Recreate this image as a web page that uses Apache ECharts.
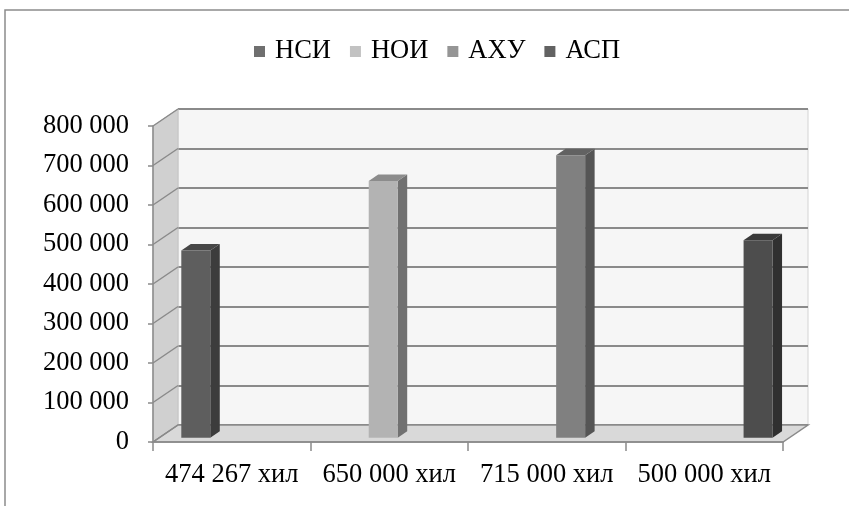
<!DOCTYPE html>
<html>
<head>
<meta charset="utf-8">
<script src="https://cdn.jsdelivr.net/npm/echarts@6/dist/echarts.min.js"></script>
<style>
  html, body { margin: 0; padding: 0; background: #ffffff; }
  #chart { width: 849px; height: 506px; }
</style>
</head>
<body>
<div id="chart"></div>
<script>
// Categories along the front axis
const categories = ['474 267 хил', '650 000 хил', '715 000 хил', '500 000 хил'];

// One series per department; each has a value only in its own category
const seriesNames = ['НСИ', 'НОИ', 'АХУ', 'АСП'];
const nsiValues = [474267, null, null, null];
const noiValues = [null, 650000, null, null];
const ahuValues = [null, null, 715000, null];
const aspValues = [null, null, null, 500000];

// Value axis ticks
const yTicks = [0, 100000, 200000, 300000, 400000, 500000, 600000, 700000, 800000];
const yMin = 0;
const yMax = 800000;
const yStep = 100000;

// Shading for front / side / top faces and legend swatches
const palette = [
  { front: '#5e5e5e', side: '#3c3c3c', top: '#474747', legend: '#6f6f6f' },
  { front: '#b3b3b3', side: '#717171', top: '#8c8c8c', legend: '#c2c2c2' },
  { front: '#808080', side: '#555555', top: '#626262', legend: '#959595' },
  { front: '#4d4d4d', side: '#303030', top: '#3a3a3a', legend: '#626262' }
];

const FONT = "Liberation Serif";
const FONT_SIZE = 26.5;
const DX = 25;   // depth shift to the right
const DY = -17;  // depth shift upwards
const LINE = '#8a8a8a';

function fmt(v) {
  return String(v).replace(/\B(?=(\d{3})+(?!\d))/g, ' ');
}

// Floor, left side wall and the diagonal tick connectors
function renderWalls(params, api) {
  const cs = params.coordSys;
  const left = cs.x, right = cs.x + cs.width;
  const y0 = api.coord([0, yMin])[1];
  const yTop = api.coord([0, yMax])[1];
  const children = [
    {
      type: 'polygon',
      shape: { points: [[left, yTop], [left + DX, yTop + DY], [left + DX, y0 + DY], [left, y0]] },
      style: { fill: '#d0d0d0', stroke: '#c4c4c4', lineWidth: 1 }
    },
    {
      type: 'polygon',
      shape: { points: [[left, y0], [right, y0], [right + DX, y0 + DY], [left + DX, y0 + DY]] },
      style: { fill: '#d9d9d9', stroke: LINE, lineWidth: 1.5 }
    }
  ];
  yTicks.forEach(function (v) {
    const y = api.coord([0, v])[1];
    children.push({
      type: 'line',
      shape: { x1: left, y1: y, x2: left + DX, y2: y + DY },
      style: { stroke: LINE, lineWidth: 1.5 }
    });
  });
  return { type: 'group', children: children };
}

// Box-shaped column: front face, right side and top
function makeBarRenderer(slot) {
  const c = palette[slot];
  return function (params, api) {
    const cat = api.value(0);
    const val = api.value(1);
    const base = api.coord([cat, 0]);
    const top = api.coord([cat, val]);
    const band = api.size([1, 0])[0];
    const w = band * 0.184;
    const x0 = base[0] - band / 2 + band * (0.14 + slot * 0.19);
    const fa = 0.25, fb = 0.63;
    const ax = x0 + fa * DX, bx = x0 + fb * DX;
    const ayT = top[1] + fa * DY, byT = top[1] + fb * DY;
    const ayB = base[1] + fa * DY, byB = base[1] + fb * DY;
    return {
      type: 'group',
      children: [
        {
          type: 'polygon',
          shape: { points: [[ax + w, ayT], [bx + w, byT], [bx + w, byB], [ax + w, ayB]] },
          style: { fill: c.side }
        },
        {
          type: 'polygon',
          shape: { points: [[ax, ayT], [ax + w, ayT], [bx + w, byT], [bx, byT]] },
          style: { fill: c.top }
        },
        {
          type: 'rect',
          shape: { x: ax, y: ayT, width: w, height: ayB - ayT },
          style: { fill: c.front }
        }
      ]
    };
  };
}

function toData(values) {
  const out = [];
  values.forEach(function (v, i) { if (v != null) out.push([i, v]); });
  return out;
}

const allValues = [nsiValues, noiValues, ahuValues, aspValues];

const barSeries = seriesNames.map(function (name, i) {
  return {
    name: name,
    type: 'custom',
    xAxisIndex: 0,
    yAxisIndex: 0,
    renderItem: makeBarRenderer(i),
    data: toData(allValues[i]),
    encode: { x: 0, y: 1 },
    clip: false,
    z: 10,
    itemStyle: { color: palette[i].legend }
  };
});

const legendText = { fontFamily: FONT, fontSize: FONT_SIZE, color: '#000', padding: [0, 0, 0, 5] };

const chart = echarts.init(document.getElementById('chart'), null, { renderer: 'canvas' });

chart.setOption({
  animation: false,
  backgroundColor: '#ffffff',
  textStyle: { fontFamily: FONT },
  graphic: [
    {
      type: 'rect',
      shape: { x: 5, y: 10, width: 900, height: 600 },
      style: { fill: 'none', stroke: '#8c8c8c', lineWidth: 1.5 },
      silent: true,
      z: 100
    }
  ],
  legend: {
    left: 254,
    top: 38,
    padding: 0,
    icon: 'rect',
    itemWidth: 11,
    itemHeight: 11,
    itemGap: 19,
    textStyle: legendText,
    data: seriesNames.map(function (n, i) {
      return { name: n, itemStyle: { color: palette[i].legend }, textStyle: legendText };
    })
  },
  grid: [
    // front plane: axes, labels and columns
    { left: 153, right: 66, top: 126, bottom: 64, containLabel: false },
    // back wall with the horizontal gridlines
    {
      left: 153 + DX, right: 66 - DX, top: 126 + DY, bottom: 64 - DY,
      show: true, backgroundColor: '#f6f6f6', borderColor: '#d4d4d4', borderWidth: 1, z: 0
    }
  ],
  xAxis: [
    {
      gridIndex: 0,
      type: 'category',
      data: categories,
      boundaryGap: true,
      axisLine: { show: true, lineStyle: { color: LINE, width: 1.5 } },
      axisTick: { show: true, length: 9, lineStyle: { color: LINE, width: 1.5 } },
      axisLabel: { fontFamily: FONT, fontSize: FONT_SIZE, color: '#000', margin: 20, interval: 0 },
      splitLine: { show: false },
      z: 5
    },
    {
      gridIndex: 1,
      type: 'category',
      data: categories,
      show: false
    }
  ],
  yAxis: [
    {
      gridIndex: 0,
      type: 'value',
      min: yMin,
      max: yMax,
      interval: yStep,
      axisLine: { show: true, lineStyle: { color: LINE, width: 1.5 } },
      axisTick: { show: true, length: 5, lineStyle: { color: LINE, width: 1.5 } },
      axisLabel: { fontFamily: FONT, fontSize: FONT_SIZE, color: '#000', margin: 24, formatter: fmt },
      splitLine: { show: false },
      z: 5
    },
    {
      gridIndex: 1,
      type: 'value',
      min: yMin,
      max: yMax,
      interval: yStep,
      axisLine: { show: false },
      axisTick: { show: false },
      axisLabel: { show: false },
      splitLine: { show: true, lineStyle: { color: LINE, width: 2 } }
    }
  ],
  series: [
    {
      name: 'walls',
      type: 'custom',
      xAxisIndex: 0,
      yAxisIndex: 0,
      renderItem: renderWalls,
      data: [[0, 0]],
      encode: { x: 0, y: 1 },
      clip: false,
      silent: true,
      z: 1
    }
  ].concat(barSeries)
});
</script>
</body>
</html>
